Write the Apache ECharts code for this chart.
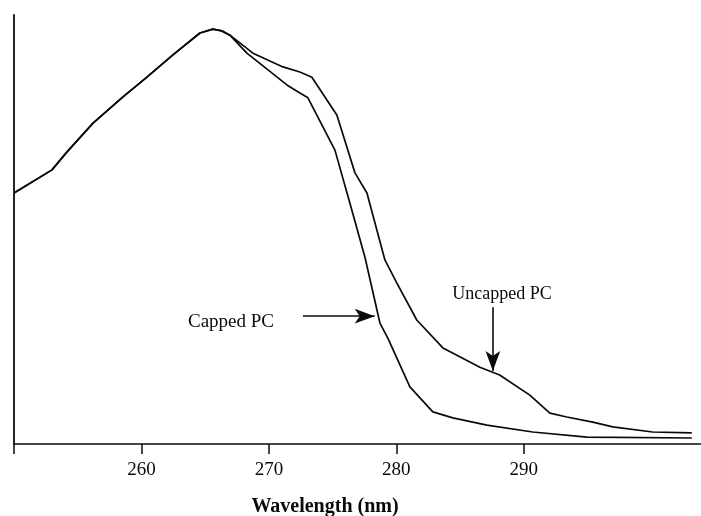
<!DOCTYPE html>
<html>
<head>
<meta charset="utf-8">
<script src="https://cdn.jsdelivr.net/npm/echarts@6/dist/echarts.min.js"></script>
<style>
  html, body { margin: 0; padding: 0; background: #fff; }
  #main { width: 701px; height: 516px; }
</style>
</head>
<body>
<div id="main"></div>
<script>
// shared part of both spectra (up to the peak)
var commonWl = [250, 252.98, 254.16, 256.2, 258.55, 260.43, 262.47, 264.59, 265.6, 266.3, 266.94];
var commonAbs = [58.5, 63.9, 68.1, 74.8, 80.9, 85.5, 90.7, 95.8, 96.7, 96.3, 95.3];

// uncapped PC after the split
var uncappedWl = [268.75, 271.1, 272.43, 273.37, 275.33, 276.75, 277.69, 279.1, 280.04, 281.6, 283.65, 285.2, 286.55, 288.1, 290.47, 292.04, 293.37, 295.41, 296.98, 300.1, 303.18];
var uncappedAbs = [91.1, 87.9, 86.7, 85.5, 76.7, 63.2, 58.5, 42.9, 37.5, 28.9, 22.4, 20.0, 17.9, 16.1, 11.4, 7.2, 6.3, 5.1, 4.0, 2.8, 2.6];

// capped PC after the split
var cappedWl = [268.27, 271.41, 272.43, 273.06, 275.18, 276.35, 277.53, 278.71, 279.33, 281.06, 282.86, 284.43, 287.1, 290.7, 294.94, 303.18];
var cappedAbs = [91.1, 83.7, 81.8, 80.7, 68.5, 56.2, 43.6, 28.2, 24.7, 13.3, 7.5, 6.1, 4.4, 2.8, 1.6, 1.4];

var tickValues = [250, 260, 270, 280, 290];
var labelValues = [260, 270, 280, 290];

function pairs(xs, ys) {
	var out = [];
	for (var i = 0; i < xs.length; i++) out.push([xs[i], ys[i]]);
	return out;
}

var uncappedData = pairs(commonWl, commonAbs).concat(pairs(uncappedWl, uncappedAbs));
var cappedData = pairs(commonWl, commonAbs).concat(pairs(cappedWl, cappedAbs));

var font = 'Liberation Serif';
var ink = '#0a0a0a';

var myChart = echarts.init(document.getElementById('main'));
var option = {
	animation: false,
	backgroundColor: '#fff',
	grid: {
		left: 14,
		right: 0,
		top: 15,
		bottom: 72
	},
	xAxis: {
		type: 'value',
		min: 250,
		max: 303.9,
		interval: 10,
		splitLine: { show: false },
		axisLine: { lineStyle: { color: ink, width: 1.6 } },
		axisTick: {
			show: true,
			inside: false,
			length: 10,
			customValues: tickValues,
			lineStyle: { color: ink, width: 1.5 }
		},
		axisLabel: {
			customValues: labelValues,
			margin: 17,
			color: ink,
			fontFamily: font,
			fontSize: 19
		}
	},
	yAxis: {
		type: 'value',
		min: 0,
		max: 100,
		splitLine: { show: false },
		axisLine: { show: true, lineStyle: { color: ink, width: 1.8 } },
		axisTick: { show: false },
		axisLabel: { show: false }
	},
	series: [
		{
			name: 'Uncapped PC',
			type: 'line',
			data: uncappedData,
			symbol: 'none',
			lineStyle: { color: ink, width: 1.7 },
			markLine: {
				silent: true,
				symbol: ['none', 'arrow'],
				symbolSize: [11, 20],
				lineStyle: { color: ink, width: 1.6, type: 'solid' },
				label: { show: false },
				data: [[{ coord: [287.57, 31.9] }, { coord: [287.57, 17.0] }]]
			}
		},
		{
			name: 'Capped PC',
			type: 'line',
			data: cappedData,
			symbol: 'none',
			lineStyle: { color: ink, width: 1.7 },
			markLine: {
				silent: true,
				symbol: ['none', 'arrow'],
				symbolSize: [11, 20],
				lineStyle: { color: ink, width: 1.6, type: 'solid' },
				label: { show: false },
				data: [[{ coord: [272.67, 29.8] }, { coord: [278.3, 29.8] }]]
			}
		}
	],
	graphic: [
		{
			type: 'text',
			x: 188,
			y: 322,
			style: {
				text: 'Capped PC',
				fill: ink,
				font: '19px "Liberation Serif"',
				verticalAlign: 'middle'
			}
		},
		{
			type: 'text',
			x: 502,
			y: 294,
			style: {
				text: 'Uncapped PC',
				fill: ink,
				font: '18px "Liberation Serif"',
				align: 'center',
				verticalAlign: 'middle'
			}
		},
		{
			type: 'text',
			x: 325,
			y: 507,
			style: {
				text: 'Wavelength (nm)',
				fill: ink,
				font: 'bold 20px "Liberation Serif"',
				align: 'center',
				verticalAlign: 'middle'
			}
		}
	]
};
myChart.setOption(option);
</script>
</body>
</html>
